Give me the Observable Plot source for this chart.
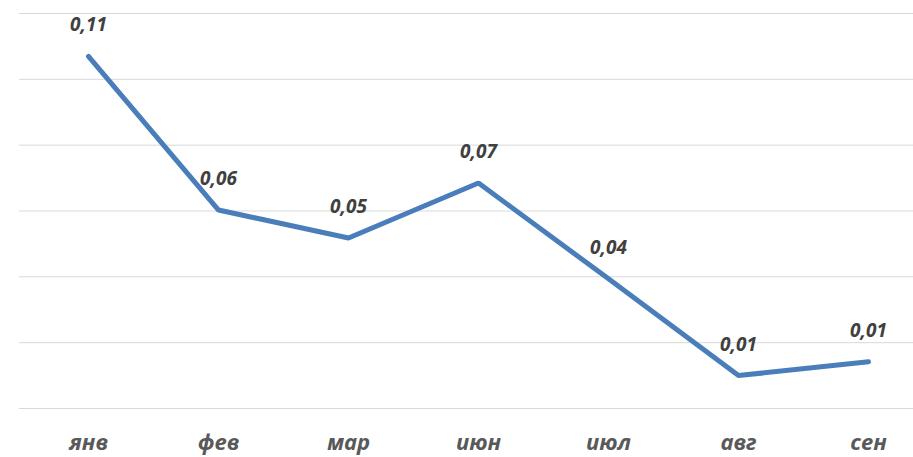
<!DOCTYPE html>
<html>
<head>
<meta charset="utf-8">
<script src="https://cdn.jsdelivr.net/npm/d3@7"></script>
<script src="https://cdn.jsdelivr.net/npm/@observablehq/plot@0.6"></script>
<style>
  html, body { margin: 0; padding: 0; background: #fff; }
  #chart svg { display: block; }
</style>
</head>
<body>
<div id="chart"></div>
<script>
const months = ["янв", "фев", "мар", "июн", "июл", "авг", "сен"];
const values = [0.107, 0.0603, 0.0518, 0.0685, 0.0394, 0.0100, 0.0142];
const labels = ["0,11", "0,06", "0,05", "0,07", "0,04", "0,01", "0,01"];
const gridTicks = [0, 0.02, 0.04, 0.06, 0.08, 0.10, 0.12];

const data = months.map((m, i) => ({month: m, value: values[i], label: labels[i]}));

const chart = Plot.plot({
  width: 913,
  height: 457,
  marginTop: 13,
  marginBottom: 49,
  marginLeft: 85,
  marginRight: 43,
  style: {fontFamily: "'Open Sans', sans-serif", background: "#fff", overflow: "visible"},
  x: {type: "point", domain: months, padding: 0},
  y: {domain: [0, 0.12], axis: null},
  marks: [
    Plot.ruleY(gridTicks, {stroke: "#d9d9d9", strokeWidth: 1, insetLeft: -66, insetRight: -43}),
    Plot.axisX({
      tickSize: 0,
      tickPadding: 26,
      fontSize: 22,
      fontWeight: "bold",
      fontStyle: "italic",
      fill: "#595959",
      label: null
    }),
    Plot.line(data, {x: "month", y: "value", stroke: "#4a7ebb", strokeWidth: 5, strokeLinecap: "round", strokeLinejoin: "miter"}),
    Plot.text(data, {x: "month", y: "value", text: "label", dy: -31, fontSize: 19, fontWeight: "bold", fontStyle: "italic", fill: "#404040"})
  ]
});
document.getElementById("chart").appendChild(chart);
</script>
</body>
</html>
